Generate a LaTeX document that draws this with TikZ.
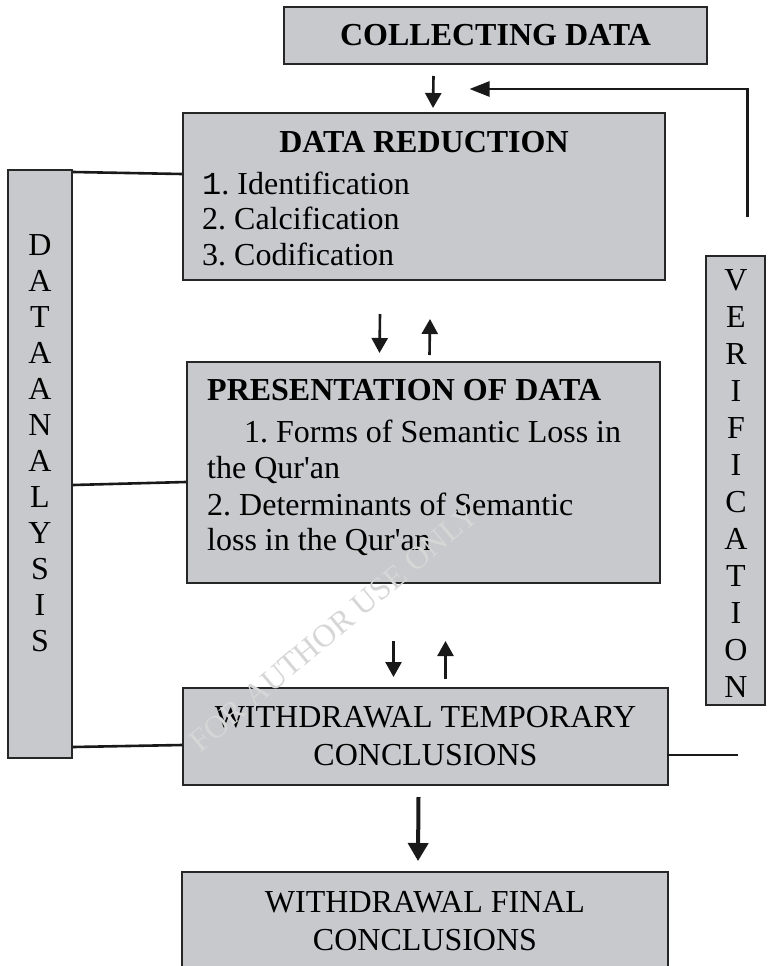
\documentclass[tikz,border=0pt]{standalone}
\usepackage{fontspec}
\setmainfont{Liberation Serif}
\newfontfamily\monofont{Liberation Mono}
\usetikzlibrary{arrows.meta}
\definecolor{boxgray}{RGB}{200,201,204}
\frenchspacing

\begin{document}
\begin{tikzpicture}[x=1pt, y=-1pt,
        font=\fontsize{32}{38}\selectfont,
        stage/.style={draw=black!85, line width=2pt, fill=boxgray, inner sep=0pt, align=center},
        item/.style={anchor=base west, inner sep=0pt},
        letter/.style={inner sep=0pt},
        arr/.style={line width=2.6pt, black!90, -{Triangle[width=16pt,length=15pt]}},
        lnk/.style={line width=2.6pt, black!90},
    ]
\useasboundingbox (0,0) rectangle (770,966);

% boxes
\node[stage, minimum width=423pt, minimum height=57pt] (collect) at (495.5,35.5) {\textbf{COLLECTING DATA}};
\node[stage, minimum width=482pt, minimum height=167pt] (reduct) at (424,196.5) {};
\node[stage, minimum width=473pt, minimum height=221pt] (presen) at (423.5,472.5) {};
\node[stage, minimum width=485pt, minimum height=97pt] (temp) at (425.5,736.5) {WITHDRAWAL TEMPORARY\\CONCLUSIONS};
\node[stage, minimum width=486pt, minimum height=98pt] (final) at (425,921) {WITHDRAWAL FINAL\\CONCLUSIONS};
\node[stage, minimum width=64pt, minimum height=588pt] (analysis) at (40,464) {};
\node[stage, minimum width=59pt, minimum height=449pt] (verif) at (735.5,480.5) {};

% data reduction
\node[inner sep=0pt, anchor=base] (rtitle) at ([yshift=-40pt]reduct.north) {\textbf{DATA REDUCTION}};
\node[item] (ri1) at ([xshift=20pt, yshift=-82pt]reduct.north west) {{\monofont 1}. Identification};
\node[item] (ri2) at ([yshift=-35pt]ri1.base west) {2. Calcification};
\node[item] (ri3) at ([yshift=-36pt]ri2.base west) {3. Codification};

% presentation of data
\node[item] (ptitle) at ([xshift=21pt, yshift=-39pt]presen.north west) {\textbf{PRESENTATION OF DATA}};
\node[item] (pi1) at ([xshift=58pt, yshift=-81pt]presen.north west) {1. Forms of Semantic Loss in};
\node[item] (pi2) at ([xshift=21pt, yshift=-117pt]presen.north west) {the Qur\textquotesingle an};
\node[item] (pi3) at ([yshift=-37pt]pi2.base west) {2. Determinants of Semantic};
\node[item] (pi4) at ([yshift=-35pt]pi3.base west) {loss in the Qur\textquotesingle an};

% side columns
\foreach \l [count=\i] in {D,A,T,A,A,N,A,L,Y,S,I,S}
    \node[letter] (da\i) at (40, 209+36*\i) {\l};
\foreach \l [count=\i] in {V,E,R,I,F,I,C,A,T,I,O,N}
    \node[letter] (ve\i) at (736, 243+37*\i) {\l};

% arrows
\draw[arr] ([xshift=-62pt, yshift=-11pt]collect.south) -- ([xshift=9pt, yshift=4pt]reduct.north);
\coordinate (fb) at ([xshift=12pt, yshift=38pt]verif.north);
\draw[arr, -{Triangle[width=15pt,length=20pt]}] (fb) |- ([xshift=-26pt, yshift=-24pt]collect.south);
\draw[arr] ([xshift=-44pt, yshift=-33pt]reduct.south) -- ([xshift=-44pt, yshift=8pt]presen.north);
\draw[arr] ([xshift=6pt, yshift=6pt]presen.north) -- ([xshift=6pt, yshift=-38pt]reduct.south);
\draw[arr] ([xshift=-30pt, yshift=-57pt]presen.south) -- ([xshift=-32pt, yshift=10pt]temp.north);
\draw[arr] ([xshift=20pt, yshift=8pt]temp.north) -- ([xshift=22pt, yshift=-57pt]presen.south);
\draw[arr, line width=4pt, -{Triangle[width=20pt,length=18pt]}] ([xshift=-7pt, yshift=-11pt]temp.south) -- ([xshift=-7pt, yshift=10pt]final.north);

% links
\draw[lnk] ([yshift=-3pt]analysis.north east) -- ([yshift=-62pt]reduct.north west);
\draw[lnk] ([yshift=-316pt]analysis.north east) -- ([yshift=-121pt]presen.north west);
\draw[lnk] ([yshift=12pt]analysis.south east) -- ([yshift=41pt]temp.south west);
\draw[lnk] ([xshift=-2pt, yshift=-68pt]temp.north east) -- ++(71,0);

% watermark
\node[rotate=40, text=black!16] (wm) at (334,628) {FOR AUTHOR USE ONLY};

\end{tikzpicture}
\end{document}
